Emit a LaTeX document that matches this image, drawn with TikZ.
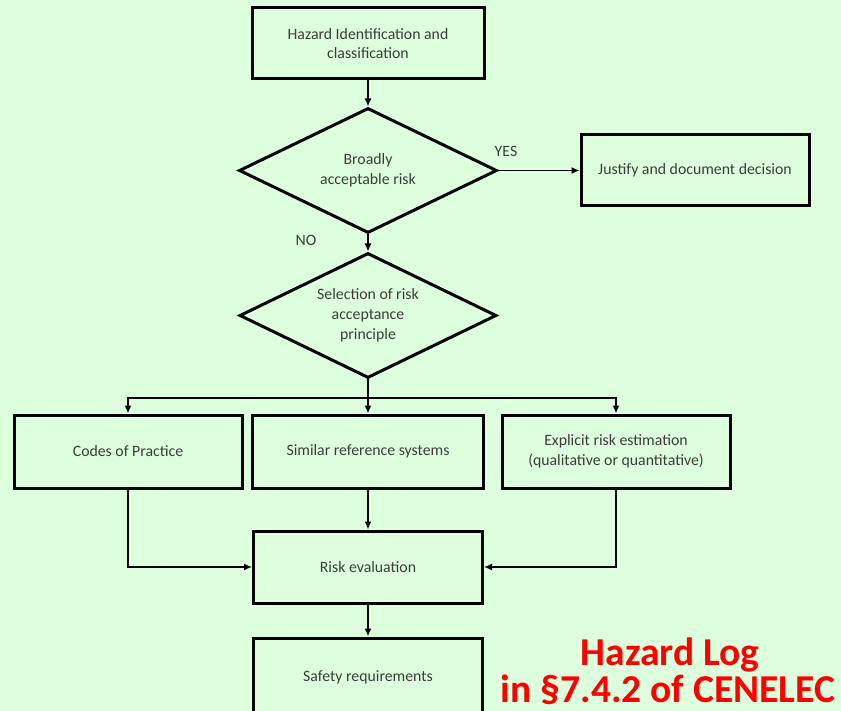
\documentclass[tikz,border=0pt]{standalone}
\usepackage{fontspec}
\setmainfont{Carlito}
\usetikzlibrary{shapes.geometric,arrows.meta}
\definecolor{bgmint}{RGB}{221,255,221}
\definecolor{inkgray}{RGB}{60,60,60}
\definecolor{logred}{RGB}{255,0,0}
\tikzset{
  x=1pt, y=-1pt,
  box/.style={draw=black, line width=3pt, inner sep=0pt, align=center,
    text=inkgray, font=\fontsize{15.8}{19.5}\selectfont},
  decision/.style={draw=black, line width=3pt, diamond, inner sep=0pt,
    align=center, text=inkgray, font=\fontsize{15.8}{20}\selectfont},
  flow/.style={draw=black, line width=1.5pt, -{Latex[length=8pt,width=7pt]}},
  lbl/.style={text=inkgray, font=\fontsize{15.8}{19.5}\selectfont},
  logtext/.style={text=logred, font=\bfseries\fontsize{39.5}{42}\selectfont}
}
\begin{document}
\begin{tikzpicture}
  % page and background
  \useasboundingbox (0,0) rectangle (841,711);
  \fill[bgmint] (0,0) rectangle (841,711);
  \clip (0,0) rectangle (841,711);

  % process boxes and decisions
  \node[box, minimum width=232pt, minimum height=71pt] (hazid) at (368,43.5)
    {Hazard Identification and\\classification};
  \node[decision, minimum width=258pt, minimum height=125pt, aspect=2.06] (broad) at (368,170.5)
    {Broadly\\acceptable risk};
  \node[box, minimum width=228pt, minimum height=71pt] (justify) at (695,170.5)
    {Justify and document decision};
  \node[decision, minimum width=257pt, minimum height=125pt, aspect=2.06] (select) at (368,315.5)
    {Selection of risk\\acceptance\\principle};
  \node[box, minimum width=228pt, minimum height=73pt] (codes) at (128,451.5)
    {Codes of Practice};
  \node[box, minimum width=231pt, minimum height=73pt] (similar) at (368,451.5)
    {Similar reference systems};
  \node[box, minimum width=228pt, minimum height=73pt] (explicit) at (616,451.5)
    {Explicit risk estimation\\(qualitative or quantitative)};
  \node[box, minimum width=229pt, minimum height=72pt] (riskeval) at (368,567)
    {Risk evaluation};
  \node[box, minimum width=229pt, minimum height=80pt] (safety) at (368,678)
    {\raisebox{4pt}{Safety requirements}};

  % branching point below the second decision
  \coordinate (fork) at (368,398);

  % connectors
  \draw[flow] (hazid.south) -- (broad.north);
  \draw[flow] (broad.east) -- (justify.west);
  \draw[flow] (broad.south) -- (select.north);
  \draw[line width=1.5pt] (select.south) -- (fork);
  \draw[flow] (fork) -| (codes.north);
  \draw[flow] (fork) -| (explicit.north);
  \draw[flow] (fork) -- (similar.north);
  \draw[flow] (codes.south) |- (riskeval.west);
  \draw[flow] (explicit.south) |- (riskeval.east);
  \draw[flow] (similar.south) -- (riskeval.north);
  \draw[flow] (riskeval.south) -- (safety.north);

  % branch labels
  \node[lbl] (yes) at (506,151) {YES};
  \node[lbl] (no) at (306,240) {NO};

  % reference note
  \node[logtext, anchor=base] (logline1) at (670,665) {Hazard Log};
  \node[logtext, anchor=base] (logline2) at (668,702) {in §7.4.2 of CENELEC};
\end{tikzpicture}
\end{document}
